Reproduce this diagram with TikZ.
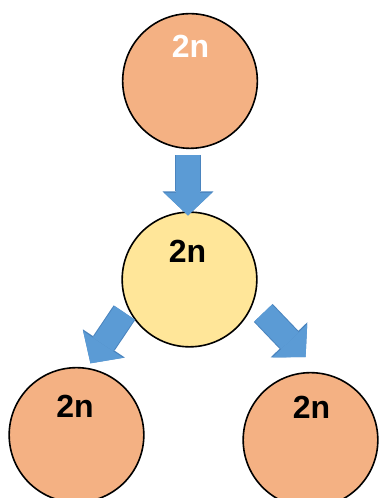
\documentclass[tikz,border=0pt]{standalone}
\usepackage{fontspec}
\setmainfont{Liberation Sans}
\usetikzlibrary{arrows.meta,calc}
\definecolor{ballorange}{HTML}{F4B183}
\definecolor{ballyellow}{HTML}{FFE699}
\definecolor{arrowblue}{HTML}{5B9BD5}
\definecolor{arrowedge}{HTML}{4A84BE}
\begin{document}
\begin{tikzpicture}[
  x=0.75pt,y=0.75pt,
  cell/.style={circle,draw=black,line width=1.2pt,minimum size=101pt,inner sep=0pt},
  lbl/.style={anchor=base,inner sep=0pt,font=\fontsize{24}{24}\selectfont\bfseries},
  arr/.style={draw=arrowblue,line width=18pt,
    -{Triangle[length=17pt,width=36pt,line width=0pt]},
    preaction={draw=arrowedge,line width=19.5pt,
      -{Triangle[length=18pt,width=38pt,line width=0pt]}}}
]
\useasboundingbox (0,0) rectangle (378,498);
% Row 1
\node[cell,fill=ballorange] (top) at (190,417) {};
% Row 2
\node[cell,fill=ballyellow] (mid) at (189.5,218.5) {};
% Row 3
\node[cell,fill=ballorange] (left) at (76.5,63) {};
\node[cell,fill=ballorange] (right) at (310.5,58) {};

\node[lbl,text=white] (top-t) at ($(top.center)+(0.5,23)$) {2n};
\node[lbl] (mid-t) at ($(mid.center)+(-2,17)$) {2n};
\node[lbl] (left-t) at ($(left.center)+(-1.5,17)$) {2n};
\node[lbl] (right-t) at ($(right.center)+(1,21)$) {2n};

\draw[arr] ($(top.center)+(-2,-74)$) -- ($(mid.center)+(-1.5,64)$);
\draw[arr] ($(mid.center)+(207:73)$) -- ($(left.center)+(79:73)$);
\draw[arr] ($(mid.center)+(-24.4:81)$) -- ($(right.center)+(93.4:83)$);
\end{tikzpicture}
\end{document}
